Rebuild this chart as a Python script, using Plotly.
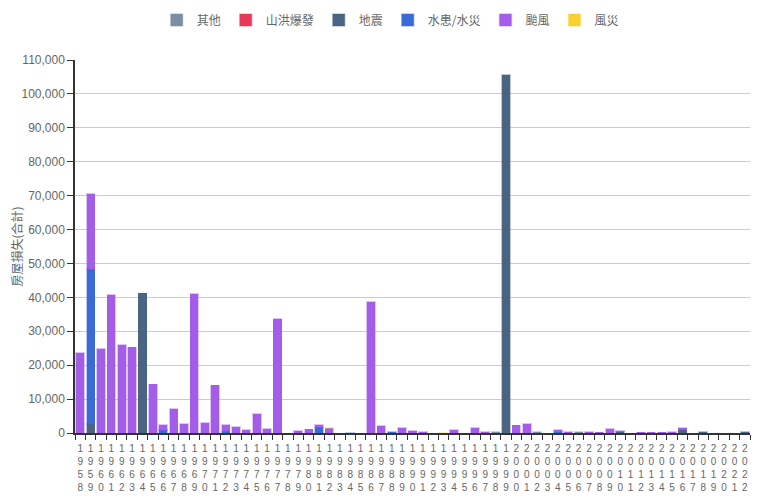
import plotly.graph_objects as go

years = list(range(1958, 2023))

other = [None]*65
flash_flood = [None]*65
quake = [None]*65
flood = [None]*65
typhoon = [None]*65
wind = [None]*65

def setv(arr, year, v):
    arr[year - 1958] = v

# 颱風
typhoon_vals = {1958: 23600, 1959: 22100, 1960: 24850, 1961: 40770, 1962: 26030, 1963: 25250,
                1965: 14340, 1966: 1480, 1967: 7070, 1968: 2650, 1969: 41060, 1970: 2950,
                1971: 14050, 1972: 1960, 1973: 1770, 1974: 980, 1975: 5700, 1976: 1180,
                1977: 33690, 1979: 690, 1980: 1080, 1981: 680, 1982: 1400, 1986: 38630,
                1987: 2060, 1989: 1470, 1990: 690, 1991: 390, 1994: 980, 1996: 1570,
                1997: 390, 2000: 2250, 2001: 2750, 2004: 480, 2005: 300, 2007: 300,
                2008: 200, 2009: 1270, 2010: 300, 2012: 200, 2013: 200, 2014: 200,
                2015: 300, 2016: 590}
for y, v in typhoon_vals.items():
    setv(typhoon, y, v)

# 水患/水災
flood_vals = {1959: 45780, 1966: 880, 1972: 500, 1981: 1670, 1984: 100, 1988: 300, 2004: 400}
for y, v in flood_vals.items():
    setv(flood, y, v)

# 地震
quake_vals = {1959: 2650, 1964: 41200, 1999: 105570, 2010: 400, 2016: 980, 2018: 300, 2022: 300}
for y, v in quake_vals.items():
    setv(quake, y, v)

# 其他
other_vals = {1998: 300, 2002: 300, 2006: 300}
for y, v in other_vals.items():
    setv(other, y, v)

# 風災
wind_vals = {1982: 80, 1993: 100}
for y, v in wind_vals.items():
    setv(wind, y, v)

series = [
    ("其他", other, "#7b8ea6", "rgba(123,142,166,0.35)"),
    ("山洪爆發", flash_flood, "#e8385a", "rgba(232,56,90,0.35)"),
    ("地震", quake, "#4a6582", "rgba(74,101,130,0.35)"),
    ("水患/水災", flood, "#3a6bd4", "rgba(58,107,212,0.35)"),
    ("颱風", typhoon, "#a35de8", "rgba(163,93,232,0.35)"),
    ("風災", wind, "#f9d02d", "rgba(249,208,45,0.35)"),
]

tick_text = ["<br>".join(list(str(y))) for y in years]
xcats = [str(y) for y in years]

fig = go.Figure()
for name, vals, color, lc in series:
    fig.add_trace(go.Bar(
        x=xcats, y=vals, name=name,
        marker=dict(color=color, line=dict(color=lc, width=1.5)),
    ))

fig.update_layout(
    barmode="stack",
    bargap=0.22,
    width=780, height=500,
    margin=dict(l=67, r=38, t=52, b=75, autoexpand=False),
    paper_bgcolor="white", plot_bgcolor="white",
    font=dict(family="Liberation Sans, Noto Sans CJK TC, sans-serif", size=12, color="#666666"),
    legend=dict(orientation="h", x=0.49, xref="container", xanchor="center",
                y=0.976, yref="container", yanchor="middle",
                font=dict(size=12, color="#666666", family="Noto Sans CJK TC, sans-serif"),
                itemwidth=30, traceorder="normal"),
    xaxis=dict(type="category", tickmode="array", tickvals=xcats, ticktext=tick_text,
               tickangle=0, showline=True, linecolor="#333", linewidth=1.5,
               ticks="outside", tickson="boundaries", ticklen=5, tickcolor="#333",
               ticklabelstandoff=5,
               showgrid=False, automargin=False, tickfont=dict(size=10, color="#666666")),
    yaxis=dict(range=[0, 110000], tickmode="linear", dtick=10000, tickformat=",",
               showline=True, linecolor="#333", linewidth=1.5, ticks="outside", ticklen=6,
               tickcolor="#333", gridcolor="#ccc", gridwidth=1, automargin=False,
               title=dict(text="房屋損失(合計)", standoff=6,
                          font=dict(size=12, color="#666666", family="Noto Sans CJK TC, sans-serif")),
               tickfont=dict(size=12, color="#666666")),
)

fig.write_html("out.html")
